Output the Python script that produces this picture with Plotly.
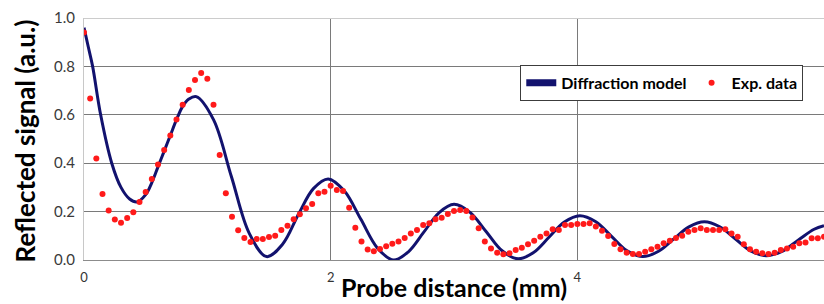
import plotly.graph_objects as go

# ---- Data ----
exp_x = [0.00, 0.05, 0.10, 0.15, 0.20, 0.25, 0.30, 0.35, 0.40, 0.45,
         0.50, 0.55, 0.60, 0.65, 0.70, 0.75, 0.80, 0.85, 0.90, 0.95,
         1.00, 1.05, 1.10, 1.15, 1.20, 1.25, 1.30, 1.35, 1.40, 1.45,
         1.50, 1.55, 1.60, 1.65, 1.70, 1.75, 1.80, 1.85, 1.90, 1.95,
         2.00, 2.05, 2.10, 2.15, 2.20, 2.25, 2.30, 2.35, 2.40, 2.45,
         2.50, 2.55, 2.60, 2.65, 2.70, 2.75, 2.80, 2.85, 2.90, 2.95,
         3.00, 3.05, 3.10, 3.15, 3.20, 3.25, 3.30, 3.35, 3.40, 3.45,
         3.50, 3.55, 3.60, 3.65, 3.70, 3.75, 3.80, 3.85, 3.90, 3.95,
         4.00, 4.05, 4.10, 4.15, 4.20, 4.25, 4.30, 4.35, 4.40, 4.45,
         4.50, 4.55, 4.60, 4.65, 4.70, 4.75, 4.80, 4.85, 4.90, 4.95,
         5.00, 5.05, 5.10, 5.15, 5.20, 5.25, 5.30, 5.35, 5.40, 5.45,
         5.50, 5.55, 5.60, 5.65, 5.70, 5.75, 5.80, 5.85, 5.90, 5.95,
         6.00]
exp_y = [0.940, 0.667, 0.419, 0.273, 0.205, 0.167, 0.154, 0.174, 0.197, 0.240,
         0.281, 0.335, 0.395, 0.455, 0.514, 0.581, 0.642, 0.702, 0.744, 0.773,
         0.749, 0.642, 0.434, 0.276, 0.179, 0.123, 0.091, 0.074, 0.087, 0.087,
         0.095, 0.100, 0.124, 0.142, 0.168, 0.189, 0.214, 0.231, 0.276, 0.282,
         0.307, 0.289, 0.285, 0.216, 0.133, 0.076, 0.043, 0.036, 0.045, 0.057,
         0.067, 0.076, 0.091, 0.110, 0.124, 0.145, 0.152, 0.168, 0.175, 0.190,
         0.202, 0.207, 0.202, 0.176, 0.131, 0.076, 0.048, 0.030, 0.024, 0.028,
         0.041, 0.051, 0.065, 0.080, 0.096, 0.110, 0.127, 0.124, 0.145, 0.145,
         0.149, 0.149, 0.152, 0.138, 0.121, 0.099, 0.066, 0.044, 0.030, 0.025,
         0.025, 0.034, 0.044, 0.055, 0.069, 0.080, 0.091, 0.100, 0.117, 0.124,
         0.131, 0.124, 0.124, 0.124, 0.127, 0.110, 0.096, 0.065, 0.044, 0.034,
         0.028, 0.025, 0.030, 0.041, 0.048, 0.055, 0.069, 0.072, 0.090, 0.090,
         0.096]

model_x = [0.00, 0.035, 0.07, 0.135, 0.225, 0.30, 0.37, 0.43, 0.50, 0.55,
           0.60, 0.65, 0.70, 0.75, 0.80, 0.85, 0.91, 1.05, 1.195, 1.34,
           1.48, 1.61, 1.74, 1.86, 1.98, 2.11, 2.245, 2.38, 2.51, 2.63,
           2.755, 2.88, 3.00, 3.13, 3.26, 3.39, 3.52, 3.645, 3.77, 3.895,
           4.02, 4.15, 4.275, 4.40, 4.53, 4.655, 4.78, 4.905, 5.03, 5.155,
           5.28, 5.405, 5.53, 5.66, 5.79, 5.92, 6.00]
model_y = [0.960, 0.880, 0.800, 0.600, 0.400, 0.300, 0.252, 0.240, 0.270, 0.320,
           0.385, 0.450, 0.515, 0.580, 0.635, 0.665, 0.675, 0.580, 0.345, 0.110,
           0.014, 0.065, 0.190, 0.295, 0.335, 0.286, 0.168, 0.049, 0.000, 0.034,
           0.115, 0.196, 0.230, 0.197, 0.118, 0.038, 0.005, 0.031, 0.094, 0.157,
           0.183, 0.158, 0.099, 0.039, 0.014, 0.035, 0.086, 0.137, 0.158, 0.1375,
           0.088, 0.038, 0.018, 0.036, 0.082, 0.127, 0.142]

x_ticks = [0, 2, 4, 6]
x_tick_labels = ["0", "2", "4", "6"]
y_ticks = [0.0, 0.2, 0.4, 0.6, 0.8, 1.0]
y_tick_labels = ["0.0", "0.2", "0.4", "0.6", "0.8", "1.0"]

NAVY = "#12126e"
RED = "#ff1a1a"
FONT = "Lato"

fig = go.Figure()

# model curve
fig.add_trace(go.Scatter(x=model_x, y=model_y, mode="lines",
                         line=dict(color=NAVY, width=3, shape="spline", smoothing=1.0),
                         name="Diffraction model", showlegend=False))
# legend entry for model (thicker bar like in the original)
fig.add_trace(go.Scatter(x=[None], y=[None], mode="lines",
                         line=dict(color=NAVY, width=7),
                         name="Diffraction model", showlegend=True))
# experimental data
fig.add_trace(go.Scatter(x=exp_x, y=exp_y, mode="markers",
                         marker=dict(color=RED, size=6),
                         name="Exp. data", showlegend=True))

fig.update_layout(
    width=824, height=304,
    margin=dict(l=84, r=0, t=18, b=44),
    plot_bgcolor="white", paper_bgcolor="white",
    font=dict(family=FONT, color="#333333"),
    legend=dict(orientation="h", x=0.972, y=0.806, xanchor="right", yanchor="top",
                bgcolor="white", bordercolor="#3c3c3c", borderwidth=1,
                font=dict(family=FONT, size=16, color="black", weight="bold"),
                itemwidth=30),
    xaxis=dict(range=[0, 6], tickvals=x_ticks, ticktext=x_tick_labels,
               showgrid=True, gridcolor="#7a7a7a", gridwidth=1,
               zeroline=False, showline=True, linecolor="#8c8c8c", linewidth=1,
               tickfont=dict(family=FONT, size=13, color="#333333"),
               ticklabelstandoff=5),
    yaxis=dict(range=[0, 1], tickvals=y_ticks, ticktext=y_tick_labels,
               showgrid=True, gridcolor="#7a7a7a", gridwidth=1,
               zeroline=False, showline=True, linecolor="#c8c8c8", linewidth=1,
               tickfont=dict(family=FONT, size=15, color="#3a3a3a"),
               ticklabelstandoff=5),
    shapes=[dict(type="line", xref="x", yref="y", x0=0, x1=6, y0=1, y1=1,
                 line=dict(color="#cccccc", width=2), layer="above")],
    annotations=[
        dict(text="Probe distance (mm)", xref="paper", yref="paper",
             x=0.5, y=-0.113, xanchor="center", yanchor="middle", showarrow=False,
             font=dict(family=FONT, size=25, color="black", weight="bold")),
        dict(text="Reflected signal (a.u.)", xref="paper", yref="paper",
             x=-0.0797, y=0.49, xanchor="center", yanchor="middle", showarrow=False,
             textangle=-90,
             font=dict(family=FONT, size=26, color="black", weight="bold")),
    ],
)

fig.write_html("out.html",
               config={"displayModeBar": False},
               post_script="document.body.style.margin='0';document.body.style.overflow='hidden';")
